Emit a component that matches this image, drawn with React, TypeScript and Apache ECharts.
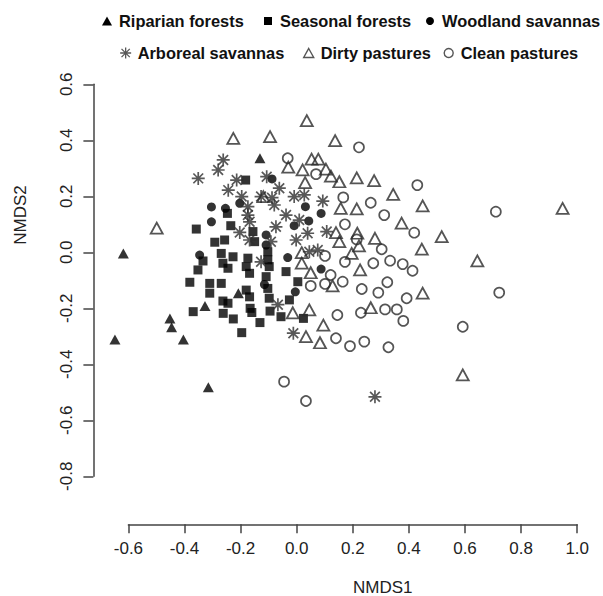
import React, { useEffect, useRef } from "react";
import * as echarts from "echarts";

const riparian: number[][] = [
  [-0.131, 0.336], [-0.618, -0.004], [-0.208, -0.146], [-0.327, -0.192], [-0.452, -0.236],
  [-0.446, -0.268], [-0.648, -0.311], [-0.404, -0.311], [-0.315, -0.482],
];

const seasonal: number[][] = [
  [-0.182, 0.258], [-0.247, 0.139], [-0.235, 0.095], [-0.358, 0.083], [-0.156, 0.074],
  [-0.15, 0.038], [-0.292, 0.036], [-0.257, 0.044], [-0.269, -0.004], [-0.227, -0.016],
  [-0.174, -0.021], [-0.334, -0.031], [-0.263, -0.039], [-0.352, -0.063], [-0.245, -0.057],
  [-0.18, -0.051], [-0.168, -0.075], [-0.381, -0.107], [-0.31, -0.111], [-0.269, -0.111],
  [-0.31, -0.146], [-0.18, -0.135], [-0.168, -0.159], [-0.263, -0.174], [-0.245, -0.182],
  [-0.369, -0.212], [-0.262, -0.218], [-0.166, -0.2], [-0.226, -0.238], [-0.131, -0.251],
  [-0.196, -0.287], [-0.103, 0.002], [-0.103, -0.027], [-0.098, -0.051], [-0.038, -0.069],
  [-0.109, -0.087], [0.004, -0.105], [-0.103, -0.129], [-0.098, -0.164], [-0.026, -0.17],
  [-0.056, -0.23], [-0.095, -0.21], [0.024, -0.236], [-0.16, -0.215],
];

const woodland: number[][] = [
  [-0.304, 0.162], [-0.254, 0.157], [-0.304, 0.109], [-0.346, -0.01], [-0.203, 0.175],
  [-0.088, 0.262], [0.031, 0.163], [0.087, 0.139], [0.043, 0.112], [-0.009, 0.095],
  [-0.109, 0.062], [-0.109, 0.026], [-0.032, -0.019], [0.087, -0.06], [-0.005, -0.141],
  [-0.115, -0.115],
];

const arboreal: number[][] = [
  [-0.262, 0.33], [-0.28, 0.294], [-0.351, 0.264], [-0.214, 0.258], [-0.107, 0.27],
  [-0.244, 0.222], [-0.196, 0.199], [-0.174, 0.163], [-0.174, 0.133], [-0.168, 0.109],
  [-0.203, 0.071], [-0.168, 0.044], [-0.062, 0.229], [-0.127, 0.199], [-0.088, 0.195],
  [-0.009, 0.199], [0.027, 0.205], [0.093, 0.183], [-0.08, 0.169], [-0.038, 0.133],
  [0.009, 0.115], [-0.074, 0.091], [0.039, 0.068], [-0.002, 0.044], [-0.092, 0.038],
  [0.045, 0.002], [0.075, 0.008], [-0.127, -0.034], [-0.067, -0.187], [-0.012, -0.289],
  [0.279, -0.516], [0.107, 0.074],
];

const dirty: number[][] = [
  [-0.226, 0.407], [-0.095, 0.413], [0.036, 0.47], [0.137, 0.399], [-0.03, 0.304],
  [0.053, 0.333], [0.077, 0.333], [0.021, 0.294], [0.104, 0.297], [0.122, 0.272],
  [0.152, 0.252], [0.03, 0.249], [0.214, 0.266], [0.276, 0.256], [0.344, 0.207],
  [0.449, 0.166], [0.157, 0.157], [0.214, 0.155], [0.374, 0.104], [0.14, 0.07],
  [0.216, 0.068], [0.279, 0.05], [0.152, 0.038], [0.222, 0.023], [0.446, 0.011],
  [0.196, -0.004], [0.018, -0.001], [0.018, -0.039], [0.226, -0.063], [0.05, -0.073],
  [0.128, -0.12], [0.449, -0.146], [0.045, -0.206], [-0.014, -0.216], [0.264, -0.198],
  [0.095, -0.26], [0.033, -0.301], [0.083, -0.323], [-0.499, 0.086], [0.948, 0.157],
  [0.517, 0.056], [0.644, -0.031], [0.592, -0.438], [-0.119, 0.199],
];

const clean: number[][] = [
  [0.222, 0.375], [-0.032, 0.336], [0.069, 0.279], [0.43, 0.24], [0.166, 0.196],
  [0.264, 0.177], [0.312, 0.133], [0.172, 0.1], [0.419, 0.07], [0.214, 0.046],
  [0.303, 0.011], [0.101, -0.013], [0.172, -0.034], [0.273, -0.039], [0.333, -0.03],
  [0.378, -0.042], [0.413, -0.066], [0.121, -0.081], [0.05, -0.12], [0.101, -0.113],
  [0.164, -0.105], [0.323, -0.107], [0.232, -0.131], [0.291, -0.144], [0.392, -0.164],
  [0.145, -0.224], [0.229, -0.216], [0.315, -0.204], [0.357, -0.204], [0.38, -0.245],
  [0.14, -0.307], [0.19, -0.335], [0.241, -0.319], [0.327, -0.339], [-0.045, -0.462],
  [0.033, -0.531], [0.71, 0.145], [0.722, -0.144], [0.592, -0.266],
];

const groupNames = [
  "Riparian forests",
  "Seasonal forests",
  "Woodland savannas",
  "Arboreal savannas",
  "Dirty pastures",
  "Clean pastures",
];

const xTicks = { min: -0.6, max: 1.0, interval: 0.2 };
const yTicks = { min: -0.8, max: 0.6, interval: 0.2 };

const FONT = "'Liberation Sans', Arial, Helvetica, sans-serif";
const ASTERISK = "path://M0 -10 L0 10 M-10 0 L10 0 M-7.5 -7.5 L7.5 7.5 M-7.5 7.5 L7.5 -7.5";

export default function App() {
  const ref = useRef<HTMLDivElement>(null);
  useEffect(() => {
    if (!ref.current) return;
    const chart = echarts.init(ref.current, undefined, { renderer: "svg" });
    const clear = "rgba(0,0,0,0)";
    const seriesDefs = [
      { data: riparian, symbol: "triangle", symbolSize: [11, 10], itemStyle: { color: "#000" } },
      { data: seasonal, symbol: "rect", symbolSize: 9, itemStyle: { color: "#000" } },
      { data: woodland, symbol: "circle", symbolSize: 9, itemStyle: { color: "#000" } },
      { data: arboreal, symbol: ASTERISK, symbolSize: 13, itemStyle: { color: clear, borderColor: "#2e2e2e", borderWidth: 1.7 } },
      { data: dirty, symbol: "triangle", symbolSize: [12, 11], itemStyle: { color: clear, borderColor: "#2a2a2a", borderWidth: 1.8 } },
      { data: clean, symbol: "circle", symbolSize: 10, itemStyle: { color: clear, borderColor: "#2a2a2a", borderWidth: 1.7 } },
    ];
    const legendPos = [
      { cx: 107, cy: 22, w: 10, h: 9 },
      { cx: 268, cy: 22, w: 8, h: 8 },
      { cx: 430, cy: 22, w: 8, h: 8 },
      { cx: 125, cy: 54, w: 11, h: 11 },
      { cx: 308, cy: 54, w: 10, h: 9 },
      { cx: 448, cy: 54, w: 9, h: 9 },
    ];
    const legends = groupNames.map((name, i) => {
      const p = legendPos[i];
      return {
        data: [name],
        left: p.cx - p.w / 2,
        top: p.cy - 9,
        padding: 0,
        itemWidth: p.w,
        itemHeight: p.h,
        selectedMode: false,
        itemStyle: i >= 3 ? { borderWidth: i === 3 ? 1.3 : 1.4 } : undefined,
        textStyle: {
          fontSize: 16.4,
          fontWeight: "bold",
          fontFamily: FONT,
          color: "#111",
          padding: [0, 0, 0, 12 - p.w / 2 - 5],
        },
      };
    });
    chart.setOption({
      animation: false,
      backgroundColor: "#fff",
      legend: legends,
      grid: { left: 128.4, right: 25.8, top: 84.3, bottom: 119.7, containLabel: false },
      xAxis: {
        type: "value",
        min: xTicks.min,
        max: xTicks.max,
        interval: xTicks.interval,
        offset: 48,
        splitLine: { show: false },
        axisLine: { show: true, onZero: false, lineStyle: { color: "#444", width: 1.5 } },
        axisTick: { show: true, length: 9, lineStyle: { color: "#444", width: 1.5 } },
        axisLabel: {
          formatter: (v: number) => v.toFixed(1),
          fontSize: 17,
          fontFamily: FONT,
          color: "#222",
          margin: 16,
        },
      },
      yAxis: {
        type: "value",
        min: yTicks.min,
        max: yTicks.max,
        interval: yTicks.interval,
        offset: 35,
        splitLine: { show: false },
        axisLine: { show: true, onZero: false, lineStyle: { color: "#444", width: 1.5 } },
        axisTick: { show: true, length: 10, lineStyle: { color: "#444", width: 1.5 } },
        axisLabel: {
          formatter: (v: number) => v.toFixed(1),
          fontSize: 17,
          fontFamily: FONT,
          color: "#222",
          rotate: 90,
          margin: 18,
        },
      },
      graphic: [
        {
          type: "text",
          left: 383 - 30,
          top: 579,
          style: { text: "NMDS1", fontSize: 17, fontFamily: FONT, fill: "#222" },
        },
        {
          type: "text",
          x: 20,
          y: 215,
          rotation: Math.PI / 2,
          style: {
            text: "NMDS2",
            fontSize: 17,
            fontFamily: FONT,
            fill: "#222",
            align: "center",
            verticalAlign: "middle",
          },
        },
      ],
      series: seriesDefs.map((s, i) => ({
        type: "scatter",
        name: groupNames[i],
        clip: false,
        data: s.data,
        symbol: s.symbol,
        symbolSize: s.symbolSize,
        itemStyle: s.itemStyle,
        emphasis: { disabled: true },
      })),
    });
    return () => chart.dispose();
  }, []);
  return (
    <div
      ref={ref}
      style={{ position: "absolute", left: 0, top: 0, width: 603, height: 596 }}
    />
  );
}
